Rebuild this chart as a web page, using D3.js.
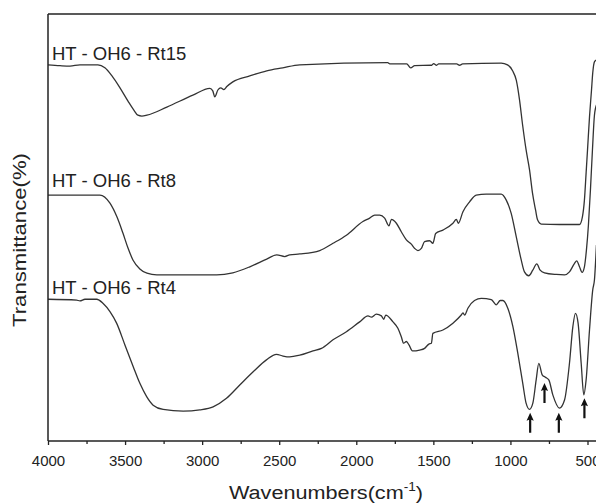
<!DOCTYPE html>
<html>
<head>
<meta charset="utf-8">
<script src="https://cdn.jsdelivr.net/npm/d3@7/dist/d3.min.js"></script>
<style>
  html, body { margin: 0; padding: 0; background: #fff; }
  svg { display: block; font-family: "Liberation Sans", Arial, sans-serif; }
</style>
</head>
<body>
<svg id="chart" width="596" height="503"></svg>
<script>
// ---- Data (wavenumber cm^-1, transmittance in arbitrary offset units) ----
const seriesNames = ["HT - OH6 - Rt15", "HT - OH6 - Rt8", "HT - OH6 - Rt4"];

const rt15 = [
  [4000,88.1],[3922,87.9],[3857,87.8],[3793,88.1],[3676,88.1],[3631,87.4],[3585,85.5],
  [3533,82.7],[3481,79.6],[3443,77.5],[3417,76.3],[3391,76.1],[3358,76.3],[3229,78.2],
  [3060,81.0],[2950,82.6],[2931,82.0],[2918,80.6],[2898,82.2],[2879,82.7],[2859,82.3],
  [2840,83.0],[2801,84.1],[2691,85.5],[2581,86.7],[2477,87.4],[2367,88.1],[1796,88.6],
  [1783,88.3],[1673,88.3],[1647,87.4],[1621,87.9],[1511,88.0],[1498,88.4],[1479,88.0],
  [1466,88.3],[1349,88.3],[1330,88.0],[1310,88.3],[1060,88.5],[1019,88.1],[986,86.7],
  [962,84.5],[941,79.9],[921,74.0],[898,68.1],[876,63.5],[857,58.1],[837,54.1],[824,51.8],
  [800,50.8],[682,50.7],[552,50.7],[533,52.5],[520,56.4],[509,62.8],[500,68.1],[487,75.9],
  [474,82.2],[466,86.2],[455,88.8],[442,89.2]
];

const rt8 = [
  [4000,57.6],[3663,57.6],[3598,55.7],[3553,52.5],[3514,48.7],[3481,45.2],[3449,42.4],
  [3404,40.3],[3358,39.3],[3294,38.9],[2905,38.9],[2801,39.4],[2691,40.8],[2581,42.6],
  [2516,43.6],[2464,43.2],[2432,43.6],[2367,43.8],[2237,44.6],[2151,46.3],[2064,48.2],
  [1957,51.4],[1913,52.2],[1881,52.9],[1848,52.9],[1816,52.2],[1788,50.4],[1772,51.9],
  [1740,51.0],[1708,49.0],[1675,47.1],[1643,46.1],[1621,45.1],[1600,44.6],[1578,45.1],
  [1557,46.7],[1524,46.9],[1503,46.3],[1485,48.6],[1438,49.4],[1373,51.0],[1351,51.9],
  [1338,51.0],[1308,53.7],[1265,56.0],[1222,57.6],[1157,57.8],[1060,57.8],[1027,56.4],
  [995,53.3],[962,47.8],[930,42.4],[909,39.6],[881,38.7],[855,40.0],[829,41.5],[807,40.0],
  [779,39.4],[703,39.0],[649,38.9],[617,39.6],[584,41.6],[570,42.2],[552,40.8],[535,39.5],
  [520,40.8],[507,44.7],[494,50.6],[481,58.8],[468,68.1],[455,76.3],[442,78.7]
];

const rt4 = [
  [4000,33.2],[3814,33.0],[3793,32.8],[3760,33.2],[3684,33.2],[3642,32.2],[3598,30.3],
  [3555,27.6],[3501,22.5],[3447,17.4],[3404,13.5],[3360,10.4],[3318,8.4],[3253,7.4],
  [3123,7.0],[3015,7.3],[2929,8.0],[2842,10.0],[2756,13.1],[2669,16.2],[2583,19.0],
  [2518,20.3],[2475,19.9],[2432,19.7],[2367,20.1],[2281,21.1],[2226,21.7],[2151,23.7],
  [2064,25.6],[1978,27.9],[1924,29.3],[1902,29.0],[1870,29.7],[1837,29.3],[1822,28.5],
  [1809,29.5],[1762,27.9],[1730,26.4],[1708,24.4],[1693,22.9],[1675,23.3],[1658,22.5],
  [1636,21.1],[1589,21.3],[1557,21.7],[1529,22.7],[1513,22.9],[1503,25.2],[1438,26.0],
  [1373,27.6],[1319,29.5],[1308,30.0],[1297,29.5],[1276,31.1],[1233,32.9],[1189,33.4],
  [1124,33.1],[1092,31.9],[1066,32.9],[1049,32.9],[1017,31.1],[984,26.8],[952,20.5],
  [920,13.5],[898,8.8],[876,7.4],[855,8.8],[833,14.3],[816,18.2],[794,15.5],[772,14.9],
  [751,14.3],[725,10.8],[682,7.7],[649,9.6],[617,18.2],[595,26.8],[578,29.9],[561,27.6],
  [541,18.2],[524,10.8],[509,14.3],[487,26.0],[466,35.4],[455,37.7],[442,45.9]
];

// arrow markers under the Rt4 bands: [wavenumber, tip transmittance]
const arrows = [[872,6.6],[779,13.6],[686,6.6],[520,10.0]];

const majorTicks = [4000,3500,3000,2500,2000,1500,1000,500];
const minorTicks = [3750,3250,2750,2250,1750,1250,750];

// ---- Layout ----
const svg = d3.select("#chart");
const W = 596, H = 503;
const pL = 48, pT = 14, pB = 441, pR = 596;

const x = d3.scaleLinear().domain([4000, 500]).range([48, 587.5]);
const y = d3.scaleLinear().domain([0, 100]).range([pB, pT]);

svg.append("rect").attr("width", W).attr("height", H).attr("fill", "#fff");

svg.append("defs").append("clipPath").attr("id", "plotclip")
  .append("rect").attr("x", pL).attr("y", pT).attr("width", pR - pL).attr("height", pB - pT);

const lineGen = d3.line().x(d => x(d[0])).y(d => y(d[1])).curve(d3.curveMonotoneX);

const plot = svg.append("g").attr("clip-path", "url(#plotclip)");
const allSeries = [rt15, rt8, rt4];
allSeries.forEach(s => {
  plot.append("path")
    .datum(s.slice().sort((a, b) => a[0] - b[0]))
    .attr("d", lineGen)
    .attr("fill", "none")
    .attr("stroke", "#333")
    .attr("stroke-width", 1.3)
    .attr("stroke-linejoin", "round");
});

// series labels
const labelOffsets = [5, 8, 5];
allSeries.forEach((s, i) => {
  svg.append("text")
    .attr("x", 52)
    .attr("y", y(s[0][1]) - labelOffsets[i])
    .attr("font-size", 18.5)
    .attr("fill", "#222")
    .text(seriesNames[i]);
});

// arrows
const arrowLen = 20, headLen = 8, headW = 3.6, shaftW = 1.1;
svg.append("g").selectAll("path").data(arrows).join("path")
  .attr("d", d => {
    const cx = x(d[0]), ty = y(d[1]);
    return `M${cx},${ty} L${cx + headW},${ty + headLen} L${cx + shaftW},${ty + headLen - 1}
            L${cx + shaftW},${ty + arrowLen} L${cx - shaftW},${ty + arrowLen}
            L${cx - shaftW},${ty + headLen - 1} L${cx - headW},${ty + headLen} Z`;
  })
  .attr("fill", "#111");

// frame lines
svg.append("line").attr("x1", pL).attr("x2", pL).attr("y1", pT).attr("y2", pB)
  .attr("stroke", "#222").attr("stroke-width", 1.5);
svg.append("line").attr("x1", pL).attr("x2", pR).attr("y1", pT).attr("y2", pT)
  .attr("stroke", "#222").attr("stroke-width", 1.5);
svg.append("line").attr("x1", pL).attr("x2", pR).attr("y1", pB).attr("y2", pB)
  .attr("stroke", "#222").attr("stroke-width", 1.5);

// bottom axis
const axisG = svg.append("g").attr("transform", `translate(0,${pB})`)
  .call(d3.axisBottom(x).tickValues(majorTicks).tickSize(4).tickSizeOuter(0).tickPadding(10)
        .tickFormat(d3.format("d")));
axisG.select(".domain").remove();
axisG.selectAll("line").attr("stroke", "#222").attr("stroke-width", 1.3);
axisG.selectAll("text").attr("font-size", 15).attr("fill", "#222")
  .attr("font-family", "'Liberation Sans', Arial, sans-serif");

const minorG = svg.append("g").attr("transform", `translate(0,${pB})`)
  .call(d3.axisBottom(x).tickValues(minorTicks).tickSize(3).tickSizeOuter(0).tickFormat(""));
minorG.select(".domain").remove();
minorG.selectAll("line").attr("stroke", "#222").attr("stroke-width", 1.3);

// axis titles
svg.append("text")
  .attr("transform", "translate(26,240) rotate(-90)")
  .attr("text-anchor", "middle")
  .attr("font-size", 18)
  .attr("fill", "#222")
  .attr("textLength", 174)
  .attr("lengthAdjust", "spacingAndGlyphs")
  .text("Transmittance(%)");

const xt = svg.append("text")
  .attr("transform", "translate(326,499) scale(1.14,1)")
  .attr("text-anchor", "middle")
  .attr("font-size", 19)
  .attr("fill", "#222");
xt.append("tspan").text("Wavenumbers(cm");
xt.append("tspan").attr("font-size", 12).attr("dy", -8).text("-1");
xt.append("tspan").attr("dy", 8).text(")");
</script>
</body>
</html>
